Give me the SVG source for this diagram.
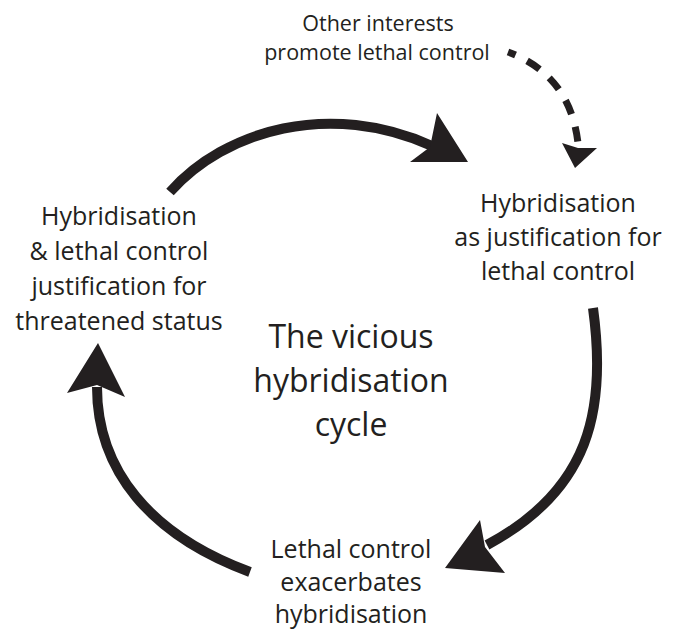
<svg xmlns="http://www.w3.org/2000/svg" width="676" height="632" viewBox="0 0 676 632">
<style>
text{font-family:"Open Sans","Liberation Sans",sans-serif;fill:#231f20;text-anchor:middle}
.n{font-size:25px}
.s{font-size:21.5px}
.c{font-size:32px}
.shaft{fill:none;stroke:#231f20;stroke-width:10}
.dash{fill:none;stroke:#231f20;stroke-width:7;stroke-dasharray:15 13;stroke-dashoffset:7}
.head{fill:#231f20}
</style>
<rect width="676" height="632" fill="#fff"/>
<g id="connectors">
<path class="shaft" d="M170,192 C225,130 330,100 432,146"/>
<polygon class="head" points="468,162 410,162 430,147 437,113"/>
<path class="shaft" d="M593,308 C607,410 590,490 487,545"/>
<polygon class="head" points="445,568 480,520 485,547 505,573"/>
<path class="shaft" d="M250,572 C150,535 97,470 97,387"/>
<polygon class="head" points="98,343 125,397 97,385 67,393"/>
<path class="dash" d="M508,52 Q570,75 578,143"/>
<polygon class="head" points="575,168 562,143 578,148 597,148"/>
</g>
<g id="node-left">
<text class="n" x="119" y="225">Hybridisation</text>
<text class="n" x="119" y="260">&amp; lethal control</text>
<text class="n" x="119" y="295">justification for</text>
<text class="n" x="119" y="330">threatened status</text>
</g>
<g id="node-right">
<text class="n" x="558" y="212">Hybridisation</text>
<text class="n" x="558" y="246">as justification for</text>
<text class="n" x="558" y="280">lethal control</text>
</g>
<g id="node-bottom">
<text class="n" x="351" y="558">Lethal control</text>
<text class="n" x="351" y="591">exacerbates</text>
<text class="n" x="351" y="623">hybridisation</text>
</g>
<g id="node-top">
<text class="s" x="378" y="31">Other interests</text>
<text class="s" x="377" y="60">promote lethal control</text>
</g>
<g id="node-center">
<text class="c" x="351" y="348">The vicious</text>
<text class="c" x="351" y="392">hybridisation</text>
<text class="c" x="351" y="436">cycle</text>
</g>
</svg>
